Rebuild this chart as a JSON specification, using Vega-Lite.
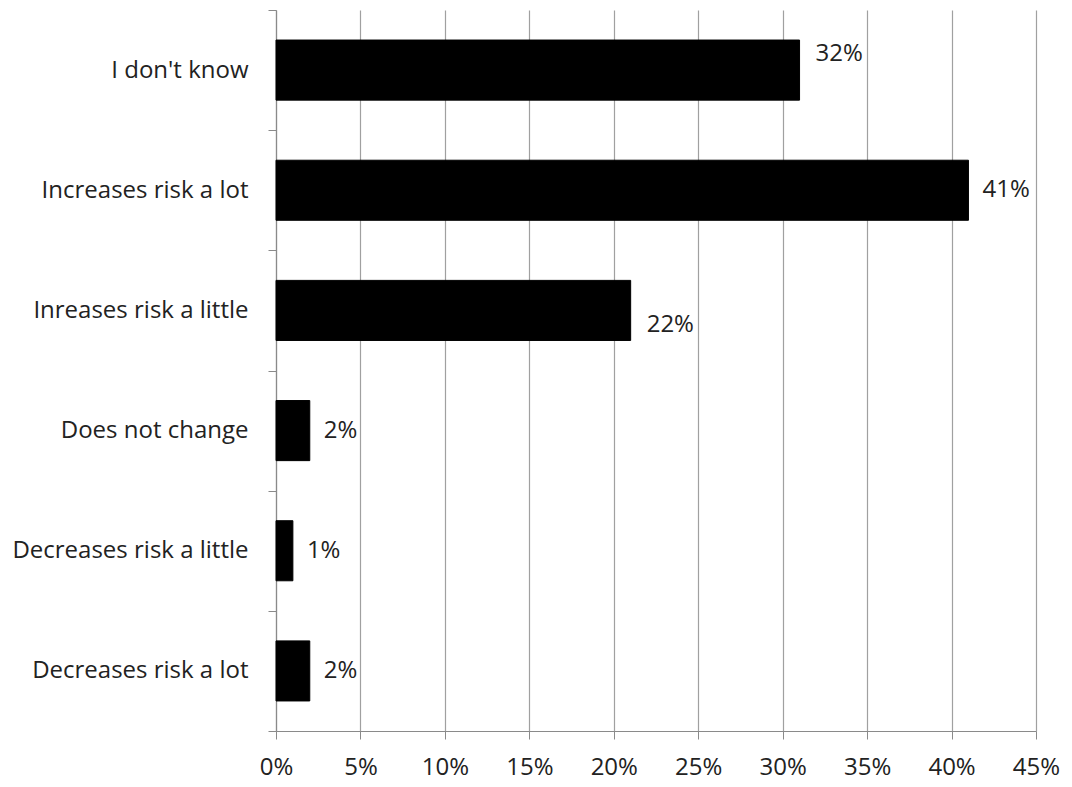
{
  "$schema": "https://vega.github.io/schema/vega-lite/v6.json",
  "autosize": "none",
  "padding": {"left": 276, "top": 10, "right": 36, "bottom": 57},
  "width": 760,
  "height": 721,
  "background": "white",
  "config": {
    "view": {"stroke": null},
    "font": "Open Sans",
    "axis": {"labelFont": "Open Sans", "labelFontSize": 24, "labelColor": "#222", "domainColor": "#8a8a8a", "tickColor": "#8a8a8a", "gridColor": "#a0a0a0", "title": null}
  },
  "data": {
    "values": [
      {"answer": "I don't know", "value": 31, "label": "32%"},
      {"answer": "Increases risk a lot", "value": 41, "label": "41%"},
      {"answer": "Inreases risk a little", "value": 21, "label": "22%"},
      {"answer": "Does not change", "value": 2, "label": "2%"},
      {"answer": "Decreases risk a little", "value": 1, "label": "1%"},
      {"answer": "Decreases risk a lot", "value": 2, "label": "2%"}
    ]
  },
  "encoding": {
    "y": {
      "field": "answer", "type": "nominal", "sort": null,
      "scale": {"paddingInner": 0, "paddingOuter": 0},
      "axis": {"tickBand": "extent", "tickSize": 8, "labelPadding": 20, "labelLimit": 400, "grid": false, "domainWidth": 1.2}
    },
    "x": {
      "field": "value", "type": "quantitative",
      "scale": {"domain": [0, 45], "nice": false},
      "axis": {"values": [0,5,10,15,20,25,30,35,40,45], "labelExpr": "datum.value + '%'", "tickSize": 8, "labelPadding": 16, "grid": true, "gridWidth": 1.2, "domainWidth": 1.2, "labelFlush": false}
    }
  },
  "layer": [
    {"mark": {"type": "bar", "color": "#000", "stroke": "#000", "strokeWidth": 1, "height": {"band": 0.5}}},
    {
      "transform": [{"filter": "datum.answer === \"I don't know\""}],
      "mark": {"type": "text", "align": "left", "dx": 16, "dy": -16, "fontSize": 24, "color": "#222", "font": "Open Sans"},
      "encoding": {"text": {"field": "label"}}
    },
    {
      "transform": [{"filter": "datum.answer === 'Inreases risk a little'"}],
      "mark": {"type": "text", "align": "left", "dx": 16, "dy": 15, "fontSize": 24, "color": "#222", "font": "Open Sans"},
      "encoding": {"text": {"field": "label"}}
    },
    {
      "transform": [{"filter": "datum.answer !== \"I don't know\" && datum.answer !== 'Inreases risk a little'"}],
      "mark": {"type": "text", "align": "left", "dx": 14, "fontSize": 24, "color": "#222", "font": "Open Sans"},
      "encoding": {"text": {"field": "label"}}
    }
  ]
}
